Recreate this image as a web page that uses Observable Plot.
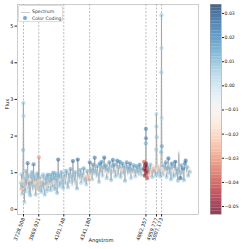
<!DOCTYPE html>
<html><head><meta charset="utf-8">
<script src="https://cdn.jsdelivr.net/npm/d3@7"></script>
<script src="https://cdn.jsdelivr.net/npm/@observablehq/plot@0.6"></script>
<style>
html,body{margin:0;padding:0;background:#fff;}
#chart{position:relative;width:249px;height:249px;font-family:"DejaVu Sans",sans-serif;overflow:hidden;}
#chart svg{position:absolute;left:0;top:0;}
.legend{position:absolute;left:18px;top:5px;width:45px;height:17px;border:0.5px solid #ddd;border-radius:2px;background:rgba(255,255,255,0.85);font-size:4.6px;color:#333;box-sizing:border-box;}
.legend .row{position:absolute;left:13px;white-space:nowrap;line-height:5px;}
.legend .ln{position:absolute;left:2px;width:9px;height:0;border-top:1px solid #ccc;}
.legend .dt{position:absolute;left:3.5px;width:4px;height:4px;border-radius:50%;background:rgba(70,140,200,0.75);}
</style></head><body><div id="chart"></div>
<script>
const wavelength = [
3701,3706,3711,3716,3721,3725,3727,3729,3732,3737,
3742,3747,3752,3757,3762,3767,3772,3777,3782,3787,
3792,3797,3802,3807,3812,3817,3822,3827,3832,3837,
3842,3847,3852,3857,3862,3867,3871,3875,3880,3885,
3890,3895,3900,3905,3910,3915,3920,3925,3930,3935,
3940,3945,3950,3955,3960,3965,3970,3975,3980,3985,
3990,3995,4000,4005,4010,4015,4020,4025,4030,4035,
4040,4045,4050,4055,4060,4065,4070,4075,4080,4085,
4090,4095,4101,4108,4116,4124,4132,4140,4148,4156,
4164,4172,4180,4186,4192,4200,4208,4216,4224,4231,
4238,4246,4254,4262,4270,4278,4286,4294,4302,4310,
4318,4326,4334,4342,4348,4356,4364,4372,4380,4388,
4396,4404,4412,4420,4428,4436,4444,4452,4460,4468,
4476,4484,4492,4500,4508,4516,4524,4532,4540,4548,
4556,4564,4572,4580,4588,4596,4604,4612,4620,4628,
4636,4644,4652,4660,4668,4676,4684,4692,4700,4708,
4716,4724,4732,4740,4748,4756,4764,4772,4780,4788,
4796,4804,4812,4820,4828,4836,4844,4848,4852,4856,
4859,4861,4862,4863,4865,4868,4871,4874,4878,4882,
4888,4896,4904,4912,4920,4928,4936,4944,4952,4957,
4959,4960,4962,4966,4972,4980,4988,4996,5003,5005,
5006,5007,5008,5010,5014,5022,5030,5038,5046,5054,
5062,5070,5078,5086,5094,5102,5110,5118,5126,5134,
5142,5150,5158,5166,5174,5182,5190,5198,5206,5214,
5222,5230,5238,5246,5254,5262,5270
];
const flux = [
0.72,0.55,0.95,0.42,0.78,1.62,2.90,2.55,0.70,0.20,
0.88,0.50,1.05,0.62,0.85,1.26,0.58,0.92,0.45,0.80,
0.38,0.95,0.65,1.02,0.52,0.88,1.23,0.60,0.92,0.72,
0.40,0.85,0.62,0.98,0.55,0.78,1.42,0.68,0.52,0.88,
0.60,0.48,0.80,0.65,0.95,0.55,0.72,0.40,0.85,0.62,
0.90,0.50,0.78,0.95,0.58,0.82,0.68,0.88,0.52,0.95,
0.70,0.85,0.62,1.00,0.75,0.90,0.55,0.98,0.72,0.85,
0.45,0.92,1.36,0.78,0.62,0.95,0.80,0.68,1.02,0.75,
0.88,0.58,0.85,0.95,0.70,1.05,0.82,0.60,0.98,0.75,
1.10,0.88,0.65,1.32,0.92,0.78,1.02,0.70,0.57,1.36,
0.95,0.82,1.08,0.72,0.98,0.85,1.12,0.78,0.92,0.68,
1.05,0.88,0.80,1.28,0.95,1.10,0.82,1.22,0.98,1.41,
1.05,0.88,1.18,0.95,0.75,1.25,1.02,1.30,0.92,1.15,
1.41,1.00,1.20,0.85,1.12,0.98,1.28,1.05,0.80,1.18,
1.35,1.02,1.22,0.90,1.12,1.33,0.95,1.15,1.30,0.88,
1.08,1.25,0.98,1.18,0.78,1.10,1.28,0.95,1.15,1.02,
1.25,0.85,1.12,0.98,1.20,1.05,0.90,1.18,1.00,1.15,
0.92,1.22,1.05,0.95,1.12,1.02,1.30,1.10,0.92,1.20,
1.05,1.80,2.20,1.94,1.25,0.98,1.15,0.85,1.08,0.92,
1.12,0.95,1.22,1.05,0.88,1.15,1.02,1.10,0.92,1.63,
2.60,2.26,1.97,1.08,0.95,1.18,1.05,0.90,1.56,3.74,
5.30,4.40,2.50,1.72,1.10,0.95,1.20,1.02,1.28,0.88,
1.12,1.39,0.98,1.15,0.82,1.25,1.05,0.90,1.18,1.30,
0.95,1.10,0.78,1.56,1.02,0.85,1.20,0.98,1.12,0.80,
1.25,1.33,1.00,1.15,0.92,1.08,1.02
];
const colorValue = [
0.004,-0.022,0.008,0.006,-0.008,0.010,0.008,0.006,0.004,0.007,
0.003,0.008,0.010,-0.006,0.006,0.024,0.005,0.008,0.007,-0.010,
0.009,0.006,0.004,0.011,-0.004,0.007,0.022,0.006,0.009,-0.012,
0.008,0.008,0.002,0.012,-0.025,-0.018,-0.030,-0.020,0.006,0.008,
0.005,0.009,-0.006,0.008,0.010,0.003,0.006,0.008,0.009,-0.009,
0.008,0.007,0.004,0.015,0.006,0.007,-0.014,0.009,0.008,0.012,
0.002,0.008,0.009,0.014,-0.005,0.009,0.010,0.011,0.004,0.007,
0.010,0.012,0.025,0.006,0.005,0.009,-0.007,0.008,0.012,0.006,
0.008,0.009,0.004,0.009,0.006,0.013,-0.004,0.008,0.010,0.006,
0.016,0.007,-0.010,0.026,0.008,0.007,0.011,0.005,0.010,0.027,
0.009,-0.006,0.012,0.006,0.008,0.004,0.015,0.007,-0.012,0.007,
0.011,-0.022,-0.028,0.023,-0.020,0.010,0.007,0.017,0.006,0.023,
0.009,-0.005,0.014,0.008,0.008,0.020,0.008,0.017,0.007,0.011,
0.025,-0.008,0.015,0.008,0.010,-0.015,0.019,0.007,0.010,0.012,
0.022,0.006,0.016,0.008,-0.006,0.021,0.006,0.011,0.020,0.008,
-0.018,0.018,0.007,0.012,0.010,0.007,0.019,-0.010,0.013,0.008,
0.021,0.006,0.010,-0.012,0.015,0.008,0.006,0.014,0.007,0.011,
-0.008,0.018,0.009,0.007,0.012,-0.015,-0.038,-0.045,-0.050,-0.048,
-0.052,0.012,0.022,0.020,-0.050,-0.047,-0.052,-0.044,-0.040,-0.030,
0.008,-0.018,0.011,-0.022,0.008,-0.020,0.009,-0.025,0.007,0.008,
0.006,0.009,0.008,-0.015,0.006,-0.020,0.007,0.009,0.010,0.007,
0.008,0.006,0.005,0.015,-0.010,0.006,0.011,-0.012,0.018,0.008,
0.013,0.025,0.007,0.010,0.009,0.020,-0.006,0.009,0.016,0.027,
0.008,0.012,0.008,-0.008,0.009,0.027,0.014,0.006,0.022,0.010,
0.019,0.026,-0.010,0.011,0.009,-0.015,0.008
];
const lineWaves = [3728.508, 3869.921, 4101.748, 4341.180, 4862.357, 4959.777, 5007.173];
const lineLabels = ["3728.508", "3869.921", "4101.748", "4341.180", "4862.357", "4959.777", "5007.173"];
const yTicks = [0, 1, 2, 3, 4, 5];
const colorTicks = [-0.05, -0.04, -0.03, -0.02, -0.01, 0.00, 0.01, 0.02, 0.03];

if (wavelength.length !== flux.length || flux.length !== colorValue.length) {
  throw new Error("length mismatch " + wavelength.length + " " + flux.length + " " + colorValue.length);
}

const data = wavelength.map((w, i) => ({w, f: flux[i], c: colorValue[i]}));
const xDomain = [3673, 5349];
const yDomain = [-0.14, 5.59];
const cDomain = [-0.0533, 0.0337];
const font = {fontFamily: "DejaVu Sans, sans-serif", fontSize: "5px", color: "#222", background: "transparent", overflow: "visible"};

const main = Plot.plot({
  width: 249, height: 249,
  marginLeft: 17, marginRight: 51, marginTop: 4, marginBottom: 35,
  style: font,
  x: {domain: xDomain},
  y: {domain: yDomain},
  color: {type: "linear", scheme: "RdBu", domain: cDomain},
  marks: [
    Plot.ruleX(lineWaves, {stroke: "#a0a0a0", strokeWidth: 0.7, strokeDasharray: "2,1.5"}),
    Plot.line(data, {x: "w", y: "f", stroke: "#a0a0a0", strokeWidth: 1, strokeOpacity: 0.75}),
    Plot.dot(data, {x: "w", y: "f", fill: "c", r: 2.1, fillOpacity: 0.55}),
    Plot.frame({stroke: "#aaa", strokeWidth: 0.6}),
    Plot.axisY({ticks: yTicks, tickSize: 2.5, tickPadding: 1.5, label: null, tickFormat: d => String(d)}),
    Plot.axisX({ticks: lineWaves, tickFormat: d => lineLabels[lineWaves.indexOf(d)], tickRotate: -70, tickSize: 2.5, tickPadding: 1, label: null}),
    Plot.text(["Angstrom"], {frameAnchor: "bottom", dy: 27, dx: -7, text: d => d, fontSize: 5.2, fill: "#222"}),
    Plot.text(["Flux"], {frameAnchor: "left", dx: -10, text: d => d, rotate: -90, fontSize: 5.2, fill: "#222"})
  ]
});

const nBands = 64;
const bands = d3.range(nBands).map(i => {
  const a = cDomain[0] + (cDomain[1] - cDomain[0]) * i / nBands;
  const b = cDomain[0] + (cDomain[1] - cDomain[0]) * (i + 1) / nBands;
  return {y1: a, y2: b, c: (a + b) / 2};
});

const cbar = Plot.plot({
  width: 249, height: 249,
  marginLeft: 210, marginRight: 28, marginTop: 4, marginBottom: 35,
  style: font,
  x: {domain: [0, 1], axis: null},
  y: {domain: cDomain, axis: null},
  color: {type: "linear", scheme: "RdBu", domain: cDomain},
  marks: [
    Plot.rect(bands, {x1: d => 0, x2: d => 1, y1: "y1", y2: "y2", fill: "c", fillOpacity: 0.75}),
    Plot.frame({stroke: "#999", strokeWidth: 0.6}),
    Plot.axisY({anchor: "right", ticks: colorTicks, tickFormat: d3.format(".2f"), tickSize: 2, tickPadding: 1, label: null, fontSize: 4.6})
  ]
});

const chart = document.getElementById("chart");
chart.appendChild(main);
chart.appendChild(cbar);

const legend = document.createElement("div");
legend.className = "legend";
legend.innerHTML =
  '<div class="ln" style="top:5.5px"></div><div class="row" style="top:3px">Spectrum</div>' +
  '<div class="dt" style="top:10px"></div><div class="row" style="top:9.5px">Color Coding</div>';
chart.appendChild(legend);
</script></body></html>
